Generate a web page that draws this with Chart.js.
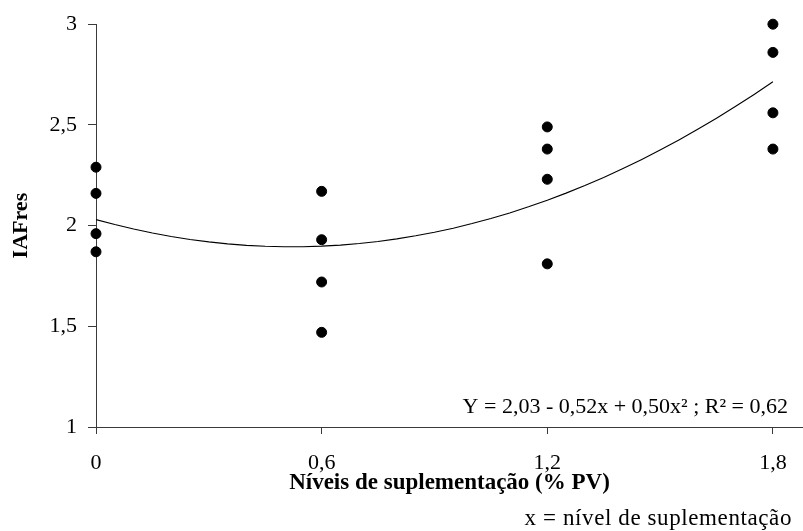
<!DOCTYPE html>
<html>
<head>
<meta charset="utf-8">
<title>IAFres x Níveis de suplementação</title>
<script src="https://cdn.jsdelivr.net/npm/chart.js@4.4.1/dist/chart.umd.min.js"></script>
<style>
  html, body { margin: 0; padding: 0; background: #ffffff; }
  #wrap { width: 803px; height: 531px; position: relative; }
</style>
</head>
<body>
<div id="wrap"><canvas id="chart"></canvas></div>
<script>
// Supplementation levels (% PV) and observed IAFres at each level
const xLevels = [0, 0.6, 1.2, 1.8];
const iafAt0  = [2.29, 2.16, 1.96, 1.87];
const iafAt06 = [2.17, 1.93, 1.72, 1.47];
const iafAt12 = [2.49, 2.38, 2.23, 1.81];
const iafAt18 = [3.00, 2.86, 2.56, 2.38];

// Fitted quadratic: Y = b0 + b1*x + b2*x²
const regressionCoef = [2.03, -0.52, 0.50];
const equationLabel = 'Y = 2,03 - 0,52x + 0,50x² ; R² = 0,62';
const footnoteLabel = 'x = nível de suplementação';

const yTicks = [1, 1.5, 2, 2.5, 3];

const groups = [iafAt0, iafAt06, iafAt12, iafAt18];
const observed = xLevels.flatMap((x, i) => groups[i].map(y => ({ x, y })));

// Curve sampled along the fitted equation over the observed range
const fitted = [];
for (let k = 0; k <= 36; k++) {
  const x = k * 0.05;
  fitted.push({ x, y: regressionCoef[0] + regressionCoef[1] * x + regressionCoef[2] * x * x });
}

const serif = "'Liberation Serif', 'Times New Roman', serif";
const comma = v => String(v).replace('.', ',');
const axisColor = '#3a3a3a';

const annotations = {
  id: 'annotations',
  afterDraw(chart) {
    const { ctx, chartArea } = chart;
    ctx.save();
    ctx.fillStyle = '#000';
    ctx.textAlign = 'right';
    ctx.textBaseline = 'alphabetic';
    ctx.font = '22px ' + serif;
    ctx.fillText(equationLabel, chartArea.right - 15, chartArea.bottom - 14);
    ctx.font = '23px ' + serif;
    ctx.letterSpacing = '0.6px';
    ctx.fillText(footnoteLabel, chartArea.right - 11, chart.height - 6);
    ctx.restore();
  }
};

new Chart(document.getElementById('chart'), {
  type: 'scatter',
  data: {
    datasets: [
      {
        label: 'IAFres',
        data: observed,
        backgroundColor: '#000',
        borderColor: '#000',
        pointRadius: 5,
        pointHoverRadius: 5,
        clip: false,
        order: 1
      },
      {
        type: 'line',
        label: 'Ajuste',
        data: fitted,
        borderColor: '#000',
        borderWidth: 1.1,
        pointRadius: 0,
        tension: 0,
        fill: false,
        order: 2
      }
    ]
  },
  options: {
    responsive: true,
    maintainAspectRatio: false,
    animation: false,
    events: [],
    layout: {
      autoPadding: false,
      padding: { top: 22, right: 0, bottom: 0, left: 0 }
    },
    plugins: {
      legend: { display: false },
      tooltip: { enabled: false }
    },
    scales: {
      x: {
        type: 'linear',
        min: 0,
        max: 1.88,
        afterBuildTicks: s => { s.ticks = xLevels.map(v => ({ value: v })); },
        afterFit: s => {
          s.height = 104;
          s.paddingLeft = 0;
          s.paddingRight = 0;
        },
        grid: {
          drawOnChartArea: false,
          drawTicks: true,
          tickLength: 7,
          color: axisColor,
          lineWidth: 1
        },
        border: { display: true, color: axisColor, width: 1 },
        ticks: {
          color: '#000',
          padding: 16,
          maxRotation: 0,
          autoSkip: false,
          font: { family: serif, size: 22 },
          callback: v => comma(v)
        },
        title: {
          display: true,
          text: 'Níveis de suplementação (% PV)',
          color: '#000',
          font: { family: serif, size: 23, weight: 'bold' },
          padding: { top: 0, bottom: 34 }
        }
      },
      y: {
        type: 'linear',
        min: 1,
        max: 3,
        afterBuildTicks: s => { s.ticks = yTicks.map(v => ({ value: v })); },
        afterFit: s => { s.width = 96; },
        grid: {
          drawOnChartArea: false,
          drawTicks: true,
          tickLength: 8,
          color: axisColor,
          lineWidth: 1
        },
        border: { display: true, color: axisColor, width: 1 },
        ticks: {
          color: '#000',
          padding: 11,
          autoSkip: false,
          font: { family: serif, size: 22 },
          callback: v => comma(v)
        },
        title: {
          display: true,
          text: 'IAFres',
          color: '#000',
          font: { family: serif, size: 22, weight: 'bold' },
          padding: { top: 8, bottom: 0 }
        }
      }
    }
  },
  plugins: [annotations]
});
</script>
</body>
</html>
